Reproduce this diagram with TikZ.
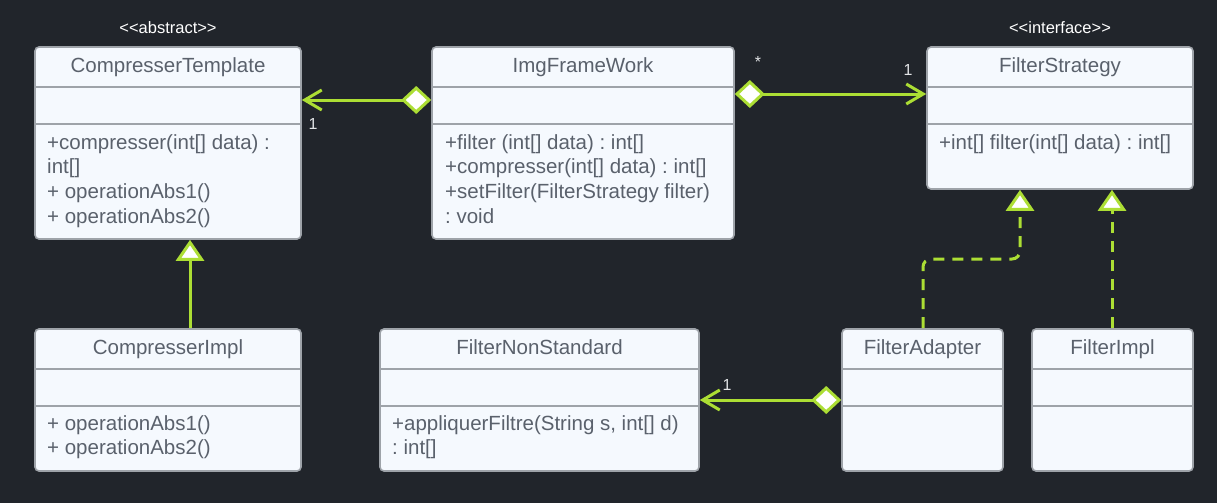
\documentclass[tikz,border=0pt]{standalone}
\usepackage{fontspec}
\setmainfont{Liberation Sans}[Ligatures=NoCommon]
\usetikzlibrary{arrows.meta}
\definecolor{bg}{HTML}{21252B}
\definecolor{boxfill}{HTML}{F5F9FE}
\definecolor{boxline}{HTML}{9EA3A9}
\definecolor{txt}{HTML}{5A616C}
\definecolor{lime}{HTML}{ACDE34}
\definecolor{lbl}{HTML}{E2E4E6}
\frenchspacing
\tikzset{
  cls/.style={draw=boxline, fill=boxfill, line width=1.6pt, rounded corners=4pt, inner sep=0pt},
  sepline/.style={draw=boxline, line width=1.6pt},
  ttl/.style={anchor=base, inner sep=0pt, text=txt, font=\fontsize{20.5}{24.7}\selectfont},
  mth/.style={anchor=base west, inner sep=0pt, text=txt, font=\fontsize{20.5}{24.7}\selectfont},
  stereo/.style={anchor=base, inner sep=0pt, text=white, font=\fontsize{16.5}{19}\selectfont},
  mult/.style={anchor=base, inner sep=0pt, text=lbl, font=\fontsize{16}{19}\selectfont},
  conn/.style={draw=lime, line width=3pt},
  aggr/.style={conn, {Diamond[fill=white, length=30pt, width=28pt]}-{Straight Barb[length=17pt, width=20pt]}},
  realize/.style={conn, -{Triangle[fill=white, length=21pt, width=28pt]}},
  dashedreal/.style={realize, dash pattern=on 11pt off 8pt, rounded corners=8pt},
}
\newcommand{\lines}[1]{\begin{tabular}[t]{@{}l@{}}#1\end{tabular}}
\begin{document}
\begin{tikzpicture}[x=1pt, y=-1pt]
\fill[bg] (0,0) rectangle (1217,503);
\useasboundingbox (0,0) rectangle (1217,503);

% ---------- classes ----------
\node[cls, minimum width=266pt, minimum height=192pt] (ct) at (168,143) {};
\node[cls, minimum width=302pt, minimum height=192pt] (ifw) at (583,143) {};
\node[cls, minimum width=266pt, minimum height=142pt] (fs) at (1060,118) {};
\node[cls, minimum width=266pt, minimum height=142pt] (ci) at (168,400) {};
\node[cls, minimum width=319pt, minimum height=142pt] (fns) at (539.5,400) {};
\node[cls, minimum width=161pt, minimum height=142pt] (fa) at (922.5,400) {};
\node[cls, minimum width=161pt, minimum height=142pt] (fi) at (1112.5,400) {};

% separators
\foreach \n in {ct,ifw,fs}{
  \draw[sepline] (\n.west |- 0,87) -- (\n.east |- 0,87);
  \draw[sepline] (\n.west |- 0,124) -- (\n.east |- 0,124);
}
\foreach \n in {ci,fns,fa,fi}{
  \draw[sepline] (\n.west |- 0,369) -- (\n.east |- 0,369);
  \draw[sepline] (\n.west |- 0,406) -- (\n.east |- 0,406);
}

% stereotypes
\node[stereo] (stab) at (168,34) {{<}{<}abstract{>}{>}};
\node[stereo] (stif) at (1060,34) {{<}{<}interface{>}{>}};

% titles
\node[ttl] (tct) at (168,72) {CompresserTemplate};
\node[ttl] (tifw) at (583,72) {ImgFrameWork};
\node[ttl] (tfs) at (1060,72) {FilterStrategy};
\node[ttl] (tci) at (168,354) {CompresserImpl};
\node[ttl] (tfns) at (539.5,354) {FilterNonStandard};
\node[ttl] (tfa) at (922.5,354) {FilterAdapter};
\node[ttl] (tfi) at (1112.5,354) {FilterImpl};

% methods
\node[mth] (mct) at (47,149) {\lines{+compresser(int[] data) :\\int[]\\+ operationAbs1()\\+ operationAbs2()}};
\node[mth] (mifw) at (445,149) {\lines{+filter (int[] data) : int[]\\+compresser(int[] data) : int[]\\+setFilter(FilterStrategy filter)\\: void}};
\node[mth] (mfs) at (939,149) {\lines{+int[] filter(int[] data) : int[]}};
\node[mth] (mci) at (47,430) {\lines{+ operationAbs1()\\+ operationAbs2()}};
\node[mth] (mfns) at (392,430) {\lines{+appliquerFiltre(String s, int[] d)\\: int[]}};

% ---------- connectors ----------
\draw[aggr] (ifw.west |- 0,100) -- (ct.east |- 0,100);
\draw[aggr] (ifw.east |- 0,94) -- (fs.west |- 0,94);
\draw[aggr] (fa.west |- 0,400) -- (fns.east |- 0,400);
\draw[realize] (ci.north -| 190,0) -- (ct.south -| 190,0);
\draw[dashedreal] (fa.north -| 923,0) -- (923,259) -- (1020,259) -- (fs.south -| 1020,0);
\draw[dashedreal] (fi.north -| 1112,0) -- (fs.south -| 1112,0);

% multiplicities
\node[mult] (m1) at (313,129) {1};
\node[mult] (m2) at (758,67) {*};
\node[mult] (m3) at (908,75) {1};
\node[mult] (m4) at (727,390) {1};
\end{tikzpicture}
\end{document}
